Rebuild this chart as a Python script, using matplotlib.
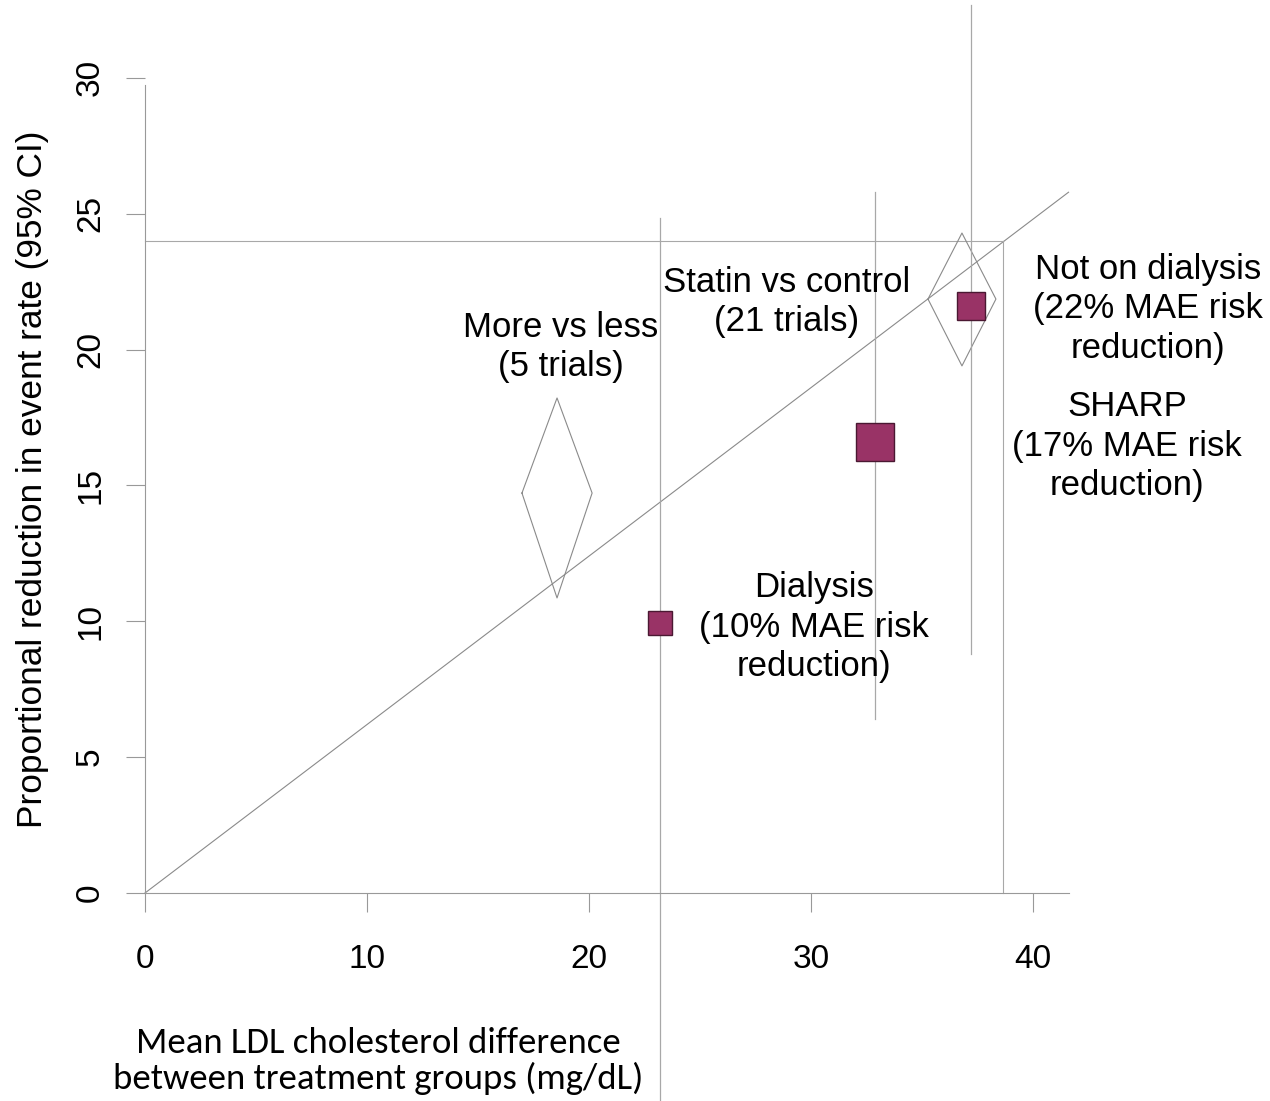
import numpy as np
import matplotlib
matplotlib.use("Agg")
from matplotlib import pyplot as plt

# squares: trial groups with 95% CI
ldl_diff = [23.2, 32.9, 37.2]
reduction = [9.95, 16.6, 21.6]
ci_low = [-7.7, 6.4, 8.8]
ci_high = [24.85, 25.8, 32.7]
square_size = [17, 28, 20]

# diamonds: meta-analysis summaries
diamond_x = [18.56, 36.8]
diamond_halfwidth = [1.58, 1.53]
diamond_mid = [14.72, 21.86]
diamond_low = [10.86, 19.4]
diamond_high = [18.22, 24.29]

# regression line through origin and reference box
trend_slope = 0.62
trend_xmax = 41.6
ref_x = 38.65
ref_y = 24.0

x_ticks = [0, 10, 20, 30, 40]
y_ticks = [0, 5, 10, 15, 20, 25, 30]

labels = ["More vs less\n(5 trials)",
          "Statin vs control\n(21 trials)",
          "Not on dialysis\n(22% MAE risk\nreduction)",
          "SHARP\n(17% MAE risk\nreduction)",
          "Dialysis\n(10% MAE risk\nreduction)"]
label_x = [18.74, 28.92, 45.18, 44.23, 30.14]
label_y = [20.1, 21.75, 21.5, 16.45, 9.79]

W, H = 1270, 1101
fig = plt.figure(figsize=(W / 100, H / 100), dpi=100)
ax = fig.add_axes([145 / W, (H - 893) / H, trend_xmax * 22.2 / W, 30 * 27.17 / H])
ax.set_xlim(0, trend_xmax)
ax.set_ylim(0, 30)

line_grey = "#a8a8a8"
font = ["Liberation Sans", "DejaVu Sans"]

# trend line
ax.plot([0, trend_xmax], [0, trend_xmax * trend_slope], color="#8a8a8a", lw=0.8, clip_on=False)
# reference box lines
ax.plot([0, ref_x], [ref_y, ref_y], color=line_grey, lw=0.8, clip_on=False)
ax.plot([ref_x, ref_x], [ref_y, 0], color=line_grey, lw=0.8, clip_on=False)

# diamonds
for cx, hw, ym, yl, yh in zip(diamond_x, diamond_halfwidth, diamond_mid, diamond_low, diamond_high):
    ax.plot([cx - hw, cx, cx + hw, cx, cx - hw], [ym, yh, ym, yl, ym],
            color="#8a8a8a", lw=0.8, clip_on=False)

# CI lines and squares
for x, y, lo, hi, s in zip(ldl_diff, reduction, ci_low, ci_high, square_size):
    ax.plot([x, x], [lo, hi], color=line_grey, lw=0.9, clip_on=False, zorder=2)
    ax.plot([x], [y], marker="s", ms=s, mfc="#993366", mec="#4a1832", mew=1.0,
            clip_on=False, zorder=3)

for txt, x, y in zip(labels, label_x, label_y):
    ax.text(x, y, txt, ha="center", va="center", fontsize=25, family=font,
            linespacing=1.26, clip_on=False)

for side in ["top", "right"]:
    ax.spines[side].set_visible(False)
ax.spines["left"].set_bounds(0, 29.75)
ax.spines["left"].set_color("#999999")
ax.spines["bottom"].set_color("#999999")
ax.spines["left"].set_linewidth(0.8)
ax.spines["bottom"].set_linewidth(0.8)

ax.set_xticks(x_ticks)
ax.set_yticks(y_ticks)
ax.set_xticklabels([str(t) for t in x_ticks], fontsize=24, family=font)
ax.set_yticklabels([str(t) for t in y_ticks], fontsize=24, family=font,
                   rotation=90, va="center")
ax.tick_params(axis="x", length=14, width=0.8, color="#999999", pad=23)
ax.tick_params(axis="y", length=14, width=0.8, color="#999999", pad=14)

fig.text(33 / W, (H - 479) / H, "Proportional reduction in event rate (95% CI)",
         rotation=90, ha="center", va="center", fontsize=25.4, family=font)
fig.text(378 / W, (H - 1061) / H,
         "Mean LDL cholesterol difference\nbetween treatment groups (mg/dL)",
         ha="center", va="center", fontsize=26.5, family=["Carlito", "Lato", "DejaVu Sans"],
         linespacing=1.1)

fig.savefig("out.png", dpi=100)
